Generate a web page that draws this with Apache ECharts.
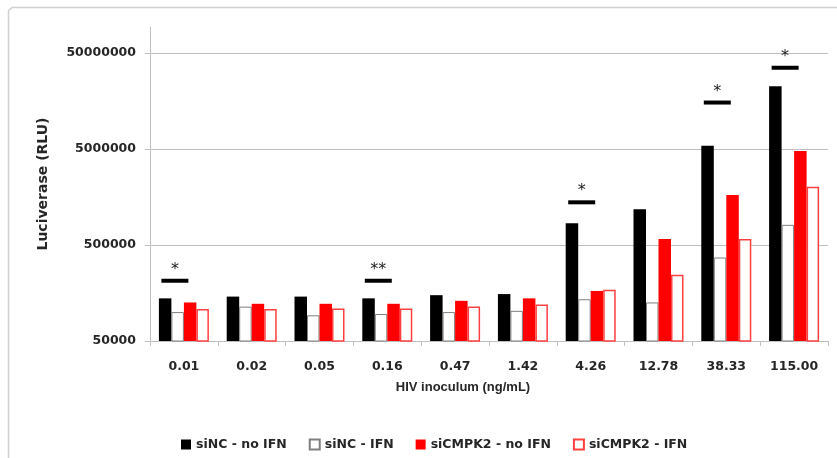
<!DOCTYPE html>
<html><head><meta charset="utf-8">
<script src="https://cdn.jsdelivr.net/npm/echarts@6/dist/echarts.min.js"></script>
<style>html,body{margin:0;padding:0;background:#fff}#c{width:837px;height:458px}</style>
</head><body><div id="c"></div>
<script>
// Data (RLU, log-scale chart)
const categories = ['0.01','0.02','0.05','0.16','0.47','1.42','4.26','12.78','38.33','115.00'];
const siNC_noIFN = [139000,145000,145000,139000,150000,154000,842000,1177000,5400000,22500000];
const siNC_IFN = [100000,114000,92500,95500,100000,103000,136000,126000,370000,810000];
const siCMPK2_noIFN = [126000,122000,122000,122000,131000,139000,166000,577000,1660000,4770000];
const siCMPK2_IFN = [108000,108000,109000,109000,114000,120000,171000,245000,577000,2020000];
const seriesNames = ['siNC - no IFN','siNC - IFN','siCMPK2 - no IFN','siCMPK2 - IFN'];
// significance markers
const sigCategories = ['0.01','0.16','4.26','38.33','115.00'];
const sigLevels = [212000,212000,1390000,15200000,35000000];
const sigLabels = ['*','**','*','*','*'];
// y axis (log10) range
const yMin = 50000;
const yMax = 93000000;
const yTitle = 'Luciverase (RLU)';
const xTitle = 'HIV inoculum (ng/mL)';

const lg = v => Math.log10(v);
const FONT = 'DejaVu Sans';
const TXT = '#262626';
const GRID = '#bfbfbf';

const chart = echarts.init(document.getElementById('c'), null, {renderer:'canvas'});
const barBase = {type:'bar', barWidth:12.5, barGap:'0%', clip:true};
const option = {
  animation:false,
  backgroundColor:'#fff',
  graphic:[{type:'polyline', silent:true, z:-10,
    shape:{points:[[8.5,470],[8.5,11],[12,7.5],[845,7.5]]},
    style:{fill:'none',stroke:'#d0d0d0',lineWidth:1.5}}],
  grid:{left:150,right:9,top:27,bottom:117,containLabel:false},
  legend:{
    data:seriesNames, left:176, top:433, itemWidth:10, itemHeight:10, itemGap:22, icon:'rect',
    textStyle:{fontFamily:FONT,fontWeight:'bold',fontSize:12.5,color:TXT}
  },
  xAxis:{
    type:'category', data:categories,
    axisLine:{lineStyle:{color:GRID,width:1}},
    axisTick:{show:true,length:5,lineStyle:{color:GRID}},
    axisLabel:{fontFamily:FONT,fontWeight:'bold',fontSize:12.5,color:TXT,margin:19},
    name:xTitle, nameLocation:'middle', nameGap:40,
    nameTextStyle:{fontFamily:'Liberation Sans',fontWeight:'bold',fontSize:13,color:TXT,padding:[0,52,0,0]}
  },
  yAxis:{
    type:'value', min:lg(yMin), max:lg(yMax), interval:1,
    axisLine:{show:true,lineStyle:{color:GRID,width:1}},
    axisTick:{show:true,length:5,lineStyle:{color:GRID}},
    splitLine:{show:true,showMaxLine:false,lineStyle:{color:GRID,width:1}},
    axisLabel:{fontFamily:FONT,fontWeight:'bold',fontSize:12.5,color:TXT,margin:14,showMaxLabel:false,
      formatter:v=>String(Number(Math.pow(10,v).toPrecision(1)))},
    name:yTitle, nameLocation:'middle', nameGap:100, nameRotate:90,
    nameTextStyle:{fontFamily:FONT,fontWeight:'bold',fontSize:14,color:TXT}
  },
  series:[
    Object.assign({}, barBase, {name:seriesNames[0], data:siNC_noIFN.map(lg), itemStyle:{color:'#000000'}}),
    Object.assign({}, barBase, {name:seriesNames[1], data:siNC_IFN.map(lg), itemStyle:{color:'#ffffff',borderColor:'#7f7f7f',borderWidth:1}}),
    Object.assign({}, barBase, {name:seriesNames[2], data:siCMPK2_noIFN.map(lg), itemStyle:{color:'#ff0000'}}),
    Object.assign({}, barBase, {name:seriesNames[3], data:siCMPK2_IFN.map(lg), itemStyle:{color:'#ffffff',borderColor:'#ff4040',borderWidth:1.5}}),
    {
      type:'scatter', name:'sig', z:5,
      data:sigCategories.map((c,i)=>[c, lg(sigLevels[i])]),
      symbol:'rect', symbolSize:[27,4], symbolOffset:[-9,0],
      itemStyle:{color:'#000', opacity:1},
      label:{show:true, position:'top', distance:1,
        formatter:p=>sigLabels[p.dataIndex],
        fontFamily:FONT, fontSize:16, color:'#1a1a1a'}
    }
  ]
};
chart.setOption(option);
</script></body></html>
